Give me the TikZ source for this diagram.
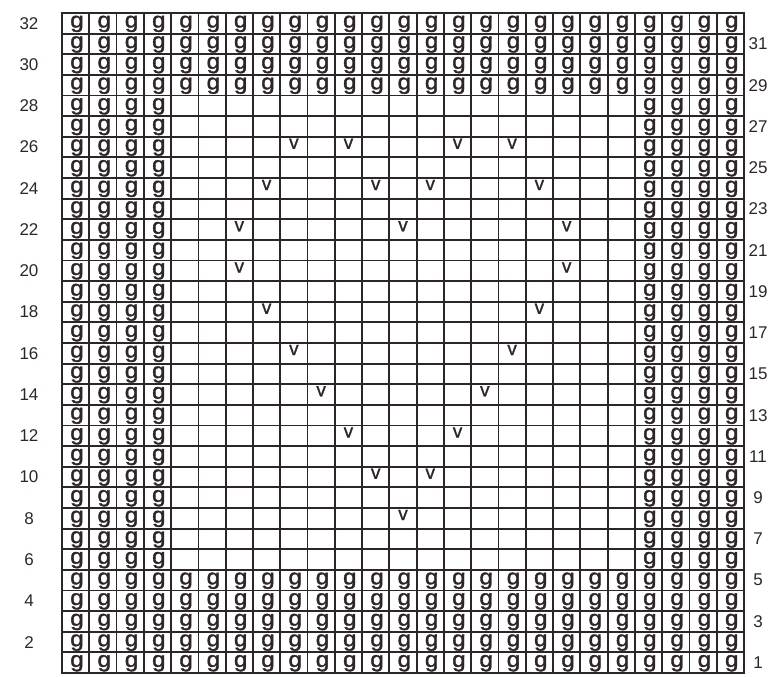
\documentclass[tikz,border=0pt]{standalone}
\usepackage{fontspec}
\setmainfont{Liberation Sans}
\newfontfamily\gfont[FakeBold=1.6]{Liberation Sans}
\newfontfamily\vfont[FakeBold=1.0]{Liberation Sans}
\definecolor{ink}{HTML}{2E2626}
\begin{document}
\begin{tikzpicture}[x=1pt,y=-1pt,
  gridline/.style={draw=ink,line width=1.8pt,line cap=rect},
  gchar/.style={font=\gfont\fontsize{22}{22}\selectfont,text=ink,inner sep=0pt,anchor=base,xscale=1.1},
  vchar/.style={font=\vfont\fontsize{19}{19}\selectfont,text=ink,inner sep=0pt,anchor=base},
  lab/.style={font=\fontsize{17}{17}\selectfont,text=ink,inner sep=0pt}]
\useasboundingbox (0,0) rectangle (777,677);
\def\cw{27.28}
\def\ch{20.625}
% grid
\foreach \k in {0,...,25} {
  \draw[gridline] ({62+\k*\cw},13) -- ({62+\k*\cw},673);
}
\foreach \k in {0,...,32} {
  \draw[gridline] (62,{13+\k*\ch}) -- (744,{13+\k*\ch});
}
% g cells
\foreach \r in {1,...,32} {
  \foreach \c in {1,...,25} {
    \pgfmathtruncatemacro\full{(\r<6)||(\r>28)||(\c<5)||(\c>21)}
    \ifnum\full=1
      \node[gchar] (g-\r-\c) at ({62+(\c-0.45)*\cw},{673-\r*\ch+14.5}) {g};
    \fi
  }
}
% v cells
\foreach \r/\c in {26/9,26/11,26/15,26/17,24/8,24/12,24/14,24/18,22/7,22/13,22/19,20/7,20/19,18/8,18/18,16/9,16/17,14/10,14/16,12/11,12/15,10/12,10/14,8/13} {
  \node[vchar] (v-\r-\c) at ({62+(\c-0.5)*\cw},{673-\r*\ch+12}) {v};
}
% row labels
\foreach \r in {2,4,...,32} {
  \node[lab] (l-\r) at (29,{673-(\r-0.5)*\ch}) {\r};
}
\foreach \r in {1,3,...,31} {
  \node[lab] (r-\r) at (758,{673-(\r-0.5)*\ch}) {\r};
}
\end{tikzpicture}
\end{document}
